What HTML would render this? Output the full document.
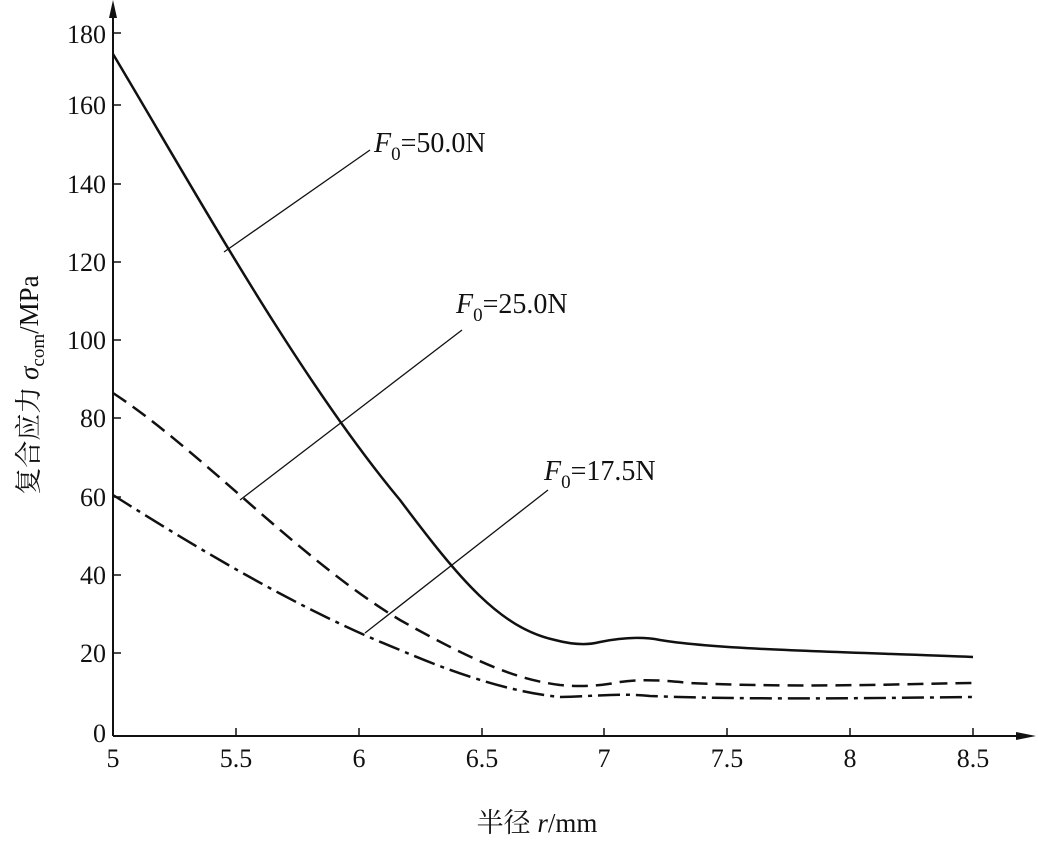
<!DOCTYPE html>
<html><head><meta charset="utf-8"><style>
body{margin:0;background:#fff}
text{font-family:"Liberation Serif","Noto Serif CJK SC",serif;fill:#111}
</style></head><body>
<svg width="1038" height="836" xmlns="http://www.w3.org/2000/svg">
<g stroke="#111" stroke-width="2" fill="none">
<line x1="113" y1="736" x2="113" y2="5"/>
<line x1="113" y1="736" x2="1030" y2="736"/>
</g>
<polygon points="113,0 109,18 117,18" fill="#111"/>
<polygon points="1036,736 1016,732 1016,740" fill="#111"/>
<g stroke="#111" stroke-width="1.5">
<line x1="113" y1="33" x2="121" y2="33"/><line x1="113" y1="105" x2="121" y2="105"/>
<line x1="113" y1="184" x2="121" y2="184"/><line x1="113" y1="262" x2="121" y2="262"/>
<line x1="113" y1="340" x2="121" y2="340"/><line x1="113" y1="418" x2="121" y2="418"/>
<line x1="113" y1="497" x2="121" y2="497"/><line x1="113" y1="575" x2="121" y2="575"/>
<line x1="113" y1="653" x2="121" y2="653"/>
<line x1="236" y1="736" x2="236" y2="728"/><line x1="359" y1="736" x2="359" y2="728"/>
<line x1="482" y1="736" x2="482" y2="728"/><line x1="604" y1="736" x2="604" y2="728"/>
<line x1="727" y1="736" x2="727" y2="728"/><line x1="850" y1="736" x2="850" y2="728"/>
<line x1="973" y1="736" x2="973" y2="728"/>
</g>
<g font-size="26" text-anchor="end">
<text x="106" y="43">180</text><text x="106" y="114">160</text><text x="106" y="193">140</text>
<text x="106" y="271">120</text><text x="106" y="349">100</text><text x="106" y="427">80</text>
<text x="106" y="506">60</text><text x="106" y="584">40</text><text x="106" y="662">20</text>
<text x="106" y="742">0</text>
</g>
<g font-size="26" text-anchor="middle">
<text x="113" y="767">5</text><text x="236" y="767">5.5</text><text x="359" y="767">6</text>
<text x="482" y="767">6.5</text><text x="604" y="767">7</text><text x="727" y="767">7.5</text>
<text x="850" y="767">8</text><text x="973" y="767">8.5</text>
</g>
<g fill="none" stroke="#111" stroke-width="2.5">
<path d="M113,54 C200,200 300,380 400,500 C460,580 500,628 555,640 C570,644 585,646 600,642 C620,638 640,636 660,640 C720,650 850,652 973,657"/>
<path stroke-dasharray="16,8" d="M113,393 C200,450 300,560 400,620 C480,665 520,680 560,685 C580,687 600,686 620,682 C640,679 660,680 690,683 C800,688 900,684 973,683"/>
<path stroke-dasharray="22,6,4,6" d="M113,495 C200,550 300,610 400,650 C470,680 520,693 560,697 C600,696 620,693 650,696 C750,700 880,698 973,697"/>
</g>
<g stroke="#111" stroke-width="1.3">
<line x1="224" y1="252" x2="370" y2="150"/>
<line x1="240" y1="500" x2="462" y2="330"/>
<line x1="365" y1="633" x2="548" y2="490"/>
</g>
<g font-size="28">
<text x="374" y="152"><tspan font-style="italic">F</tspan><tspan font-size="19" dy="8">0</tspan><tspan dy="-8">=50.0N</tspan></text>
<text x="456" y="313"><tspan font-style="italic">F</tspan><tspan font-size="19" dy="8">0</tspan><tspan dy="-8">=25.0N</tspan></text>
<text x="544" y="480"><tspan font-style="italic">F</tspan><tspan font-size="19" dy="8">0</tspan><tspan dy="-8">=17.5N</tspan></text>
</g>
<text x="537" y="832" font-size="27" text-anchor="middle">半径 <tspan font-style="italic">r</tspan>/mm</text>
<text transform="translate(38,385) rotate(-90)" font-size="27" text-anchor="middle">复合应力 <tspan font-style="italic">σ</tspan><tspan font-size="19" dy="6">com</tspan><tspan dy="-6">/MPa</tspan></text>
</svg>
</body></html>
